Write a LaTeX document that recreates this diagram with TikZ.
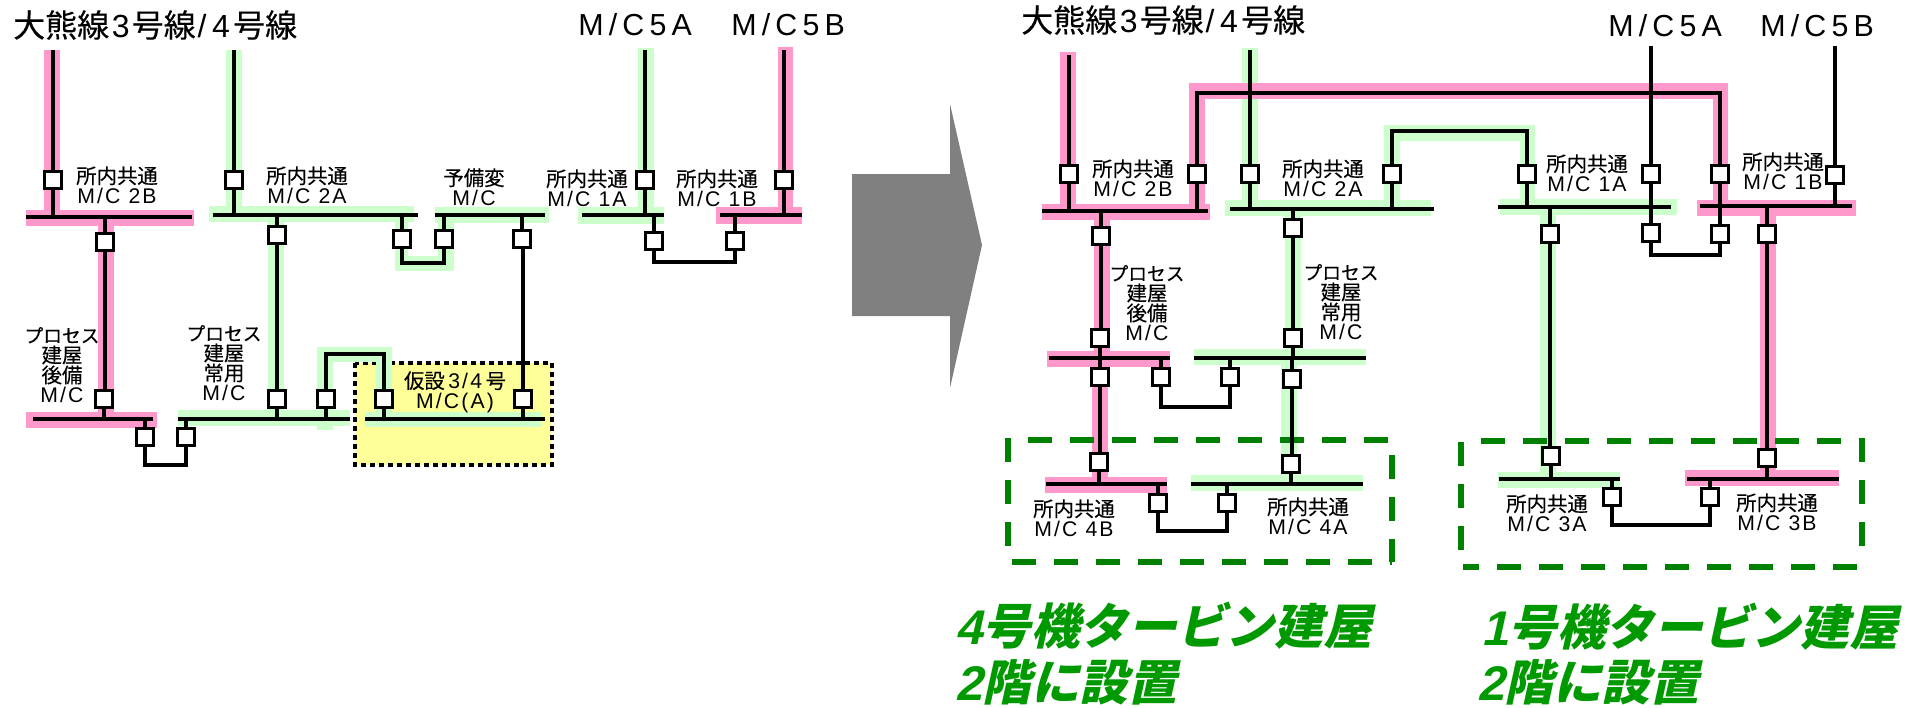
\documentclass[tikz,border=0pt]{standalone}
\usepackage{fontspec}
\setmainfont[FakeBold=0.25]{Noto Sans CJK JP}
\newfontfamily\latf[LetterSpace=10,Scale=1.04]{Liberation Sans}
\newfontfamily\headlat[LetterSpace=17,Scale=1.0]{Liberation Sans}
\newfontfamily\kanaf[FakeBold=0.25,Scale=0.92]{Noto Sans CJK JP}
\newfontfamily\grnjp[FakeSlant=0.22]{Noto Sans CJK JP}
\newfontfamily\grnlat[FakeSlant=0.22]{Liberation Sans}
\pgfdeclarelayer{bands}
\pgfdeclarelayer{wires}
\pgfsetlayers{bands,wires,main}
\definecolor{pinkband}{HTML}{FF99CC}
\definecolor{greenband}{HTML}{CCFFCC}
\definecolor{yellowbox}{HTML}{FFFF99}
\definecolor{dashgreen}{HTML}{008000}
\definecolor{textgreen}{HTML}{009900}
\definecolor{arrowgray}{HTML}{808080}
\tikzset{
  cb/.style={draw=black,fill=white,rectangle,line width=2.4pt,minimum width=12.2pt,minimum height=13pt,inner sep=0pt,outer sep=0pt},
  busbar/.style={fill=black,rectangle,minimum height=3pt,inner sep=0pt,outer sep=0pt},
  wire/.style={draw=black,line width=3.05pt,line join=miter},
  pk/.style={fill=pinkband},
  gn/.style={fill=greenband},
  bldg/.style={draw=dashgreen,line width=4.2pt,dash pattern=on 18pt off 13.5pt},
  lbl/.style={align=center,inner sep=0pt,font=\fontsize{15.3pt}{15pt}\selectfont},
  head/.style={inner sep=0pt,font=\fontsize{24pt}{28pt}\selectfont},
  headm/.style={inner sep=0pt,font=\fontsize{22.8pt}{28pt}\selectfont\headlat},
  grn/.style={anchor=west,inner sep=0pt,text=textgreen,font=\fontsize{36.5pt}{40pt}\selectfont\bfseries}
}
\begin{document}
\begin{tikzpicture}[x=0.75pt,y=-0.75pt]
\useasboundingbox (0,0) rectangle (1923,707);
% ---------- circuit breakers, left diagram
\node[cb] (cL2B) at (53,180) {};
\node[cb] (cL2Bd) at (105,242) {};
\node[cb] (cLPBu) at (104,399) {};
\node[cb] (cLPBr) at (145,437) {};
\node[cb] (cLPNl) at (186,437) {};
\node[cb] (cL2A) at (234,180) {};
\node[cb] (cL2Ad) at (277,235) {};
\node[cb] (cLPNu) at (277,399) {};
\node[cb] (cL2Ar) at (402,239) {};
\node[cb] (cLYl) at (444,239) {};
\node[cb] (cLYd) at (522,239) {};
\node[cb] (cLKu) at (523,399) {};
\node[cb] (cLPNa) at (326,399) {};
\node[cb] (cLKa) at (384,399) {};
\node[cb] (cL1A) at (645,180) {};
\node[cb] (cL1Ad) at (654,241) {};
\node[cb] (cL1Bd) at (735,241) {};
\node[cb] (cL1B) at (784,180) {};
% ---------- circuit breakers, right diagram
\node[cb] (cR2B) at (1069,174) {};
\node[cb] (cR2Bd) at (1101,236) {};
\node[cb] (cRPBu) at (1100,338) {};
\node[cb] (cRPBd) at (1100,377) {};
\node[cb] (cR4Bu) at (1099,462) {};
\node[cb] (cR2Bt) at (1197,174) {};
\node[cb] (cR2A) at (1250,174) {};
\node[cb] (cR2Ar) at (1392,174) {};
\node[cb] (cR2Ad) at (1293,228) {};
\node[cb] (cRPNu) at (1293,338) {};
\node[cb] (cRPNd) at (1292,379) {};
\node[cb] (cR4Au) at (1291,464) {};
\node[cb] (cRPBr) at (1161,377) {};
\node[cb] (cRPNl) at (1230,377) {};
\node[cb] (cR4Bl) at (1158,503) {};
\node[cb] (cR4Al) at (1227,503) {};
\node[cb] (cR1Au) at (1527,174) {};
\node[cb] (cR1Ad) at (1550,234) {};
\node[cb] (cR3Au) at (1551,456) {};
\node[cb] (cR5A) at (1651,174) {};
\node[cb] (cR1Al) at (1651,233) {};
\node[cb] (cR1Bl) at (1720,234) {};
\node[cb] (cR1Bu) at (1720,174) {};
\node[cb] (cR5B) at (1835,175) {};
\node[cb] (cR1Bd) at (1767,234) {};
\node[cb] (cR3Bu) at (1767,458) {};
\node[cb] (cR3Al) at (1612,497) {};
\node[cb] (cR3Bl) at (1710,497) {};
% ---------- bus bars
\node[busbar,minimum width=124.5pt] (bL2B) at (109,217) {};
\node[busbar,minimum width=90pt] (bLPB) at (93,419) {};
\node[busbar,minimum width=129pt] (bLPN) at (264,419) {};
\node[busbar,minimum width=153.75pt] (bL2A) at (315.5,215) {};
\node[busbar,minimum width=82.5pt] (bLY) at (490,215) {};
\node[busbar,minimum width=135pt] (bLK) at (455,419) {};
\node[busbar,minimum width=61.5pt] (bL1A) at (623,215) {};
\node[busbar,minimum width=61.5pt] (bL1B) at (761,215) {};
\node[busbar,minimum width=124.5pt] (bR2B) at (1125,211) {};
\node[busbar,minimum width=90.75pt] (bRPB) at (1109.5,358) {};
\node[busbar,minimum width=90.75pt] (bR4B) at (1106.5,484) {};
\node[busbar,minimum width=153pt] (bR2A) at (1332,209) {};
\node[busbar,minimum width=129pt] (bRPN) at (1280,358) {};
\node[busbar,minimum width=129pt] (bR4A) at (1277,484) {};
\node[busbar,minimum width=129.75pt] (bR1A) at (1584.5,207) {};
\node[busbar,minimum width=90.75pt] (bR3A) at (1559.5,479) {};
\node[busbar,minimum width=114pt] (bR1B) at (1776,206) {};
\node[busbar,minimum width=114pt] (bR3B) at (1763,479) {};
% ---------- free ends and bends
\coordinate (iL3) at (53,50);
\coordinate (iL4) at (234,50);
\coordinate (iL5A) at (645,50);
\coordinate (iL5B) at (784,50);
\coordinate (iR3) at (1069,55);
\coordinate (iR4) at (1250,50);
\coordinate (iR5A) at (1651,46);
\coordinate (iR5B) at (1835,46);
\coordinate (uLa) at (165,465);
\coordinate (uLb) at (420,263);
\coordinate (uLc) at (355,354);
\coordinate (uLd) at (695,262);
\coordinate (uRrun) at (1400,93);
\coordinate (uRarch) at (1460,131);
\coordinate (uRa) at (1195,407);
\coordinate (uRb) at (1190,531);
\coordinate (uRc) at (1685,255);
\coordinate (uRd) at (1660,525);
% ---------- highlight bands and boxes
\begin{pgfonlayer}{bands}
\fill[white] (0,0) rectangle (1923,707);
\draw[fill=yellowbox,draw=black,line width=3pt,dash pattern=on 3.4pt off 3.35pt] (355,363) rectangle (552,465);
\foreach \a/\b/\c/\d in {44/50/60/210,26/210/194/226,98/226/114/412,26/412/157/428,778/47/793/207,716/207/802/224}
  \fill[pk] (\a,\b) rectangle (\c,\d);
\foreach \a/\b/\c/\d in {226/50/242/206,209/206/414/222,268/222/284/410,178/410/350/426,317/347/392/362,317/362/333/430,376/362/392/412,365/412/541/427,395/222/408/271,395/256/454/271,438/222/454/271,435/207/549/223,638/48/654/207,578/207/664/224,
  1242/48/1258/200,1225/200/1431/216,1285/216/1301/349,1194/349/1366/365,1281/365/1297/475,1191/475/1363/491,1384/125/1400/200,1384/125/1535/141,1520/125/1535/199,1500/199/1677/215,1540/215/1556/472,1498/472/1620/488}
  \fill[gn] (\a,\b) rectangle (\c,\d);
\foreach \a/\b/\c/\d in {1060/52/1076/204,1042/204/1210/220,1189/83/1205/204,1189/83/1728/99,1713/83/1728/200,1697/200/1856/216,1760/216/1776/470,1685/470/1839/486,1094/220/1110/351,1047/351/1170/367,1092/367/1108/477,1045/477/1167/493}
  \fill[pk] (\a,\b) rectangle (\c,\d);
% large arrow
\fill[arrowgray] (852,174) -- (950,174) -- (950,104) -- (982,245) -- (950,388) -- (950,316) -- (852,316) -- cycle;
% building boxes
\draw[bldg] (1008,438) -- (1008,562);
\draw[bldg] (1028,440) -- (1392,440);
\draw[bldg] (1392,455) -- (1392,562);
\draw[bldg] (1012,562) -- (1392,562);
\draw[bldg] (1461,442) -- (1461,565);
\draw[bldg] (1481,441) -- (1862,441);
\draw[bldg] (1862,438) -- (1862,548);
\draw[bldg,dash phase=6pt] (1463,567) -- (1865,567);
\end{pgfonlayer}
% ---------- connectors
\begin{pgfonlayer}{wires}
\draw[wire] (iL3) -- (cL2B) -- (cL2B |- bL2B);
\draw[wire] (cL2Bd |- bL2B) -- (cL2Bd) -- (cL2Bd |- cLPBu);
\draw[wire] (cLPBu) -- (cLPBu |- bLPB);
\draw[wire] (cLPBr |- bLPB) -- (cLPBr);
\draw[wire] (cLPNl |- bLPN) -- (cLPNl);
\draw[wire] (cLPBr) |- (uLa) -| (cLPNl);
\draw[wire] (iL4) -- (cL2A) -- (cL2A |- bL2A);
\draw[wire] (cL2Ad |- bL2A) -- (cL2Ad) -- (cLPNu) -- (cLPNu |- bLPN);
\draw[wire] (cL2Ar |- bL2A) -- (cL2Ar);
\draw[wire] (cLYl |- bLY) -- (cLYl);
\draw[wire] (cL2Ar) |- (uLb) -| (cLYl);
\draw[wire] (cLYd |- bLY) -- (cLYd);
\draw[wire] (cLKu |- cLYd) -- (cLKu);
\draw[wire] (cLKu) -- (cLKu |- bLK);
\draw[wire] (cLPNa |- bLPN) -- (cLPNa);
\draw[wire] (cLKa |- bLK) -- (cLKa);
\draw[wire] (cLPNa) |- (uLc) -| (cLKa);
\draw[wire] (iL5A) -- (cL1A) -- (cL1A |- bL1A);
\draw[wire] (iL5B) -- (cL1B) -- (cL1B |- bL1B);
\draw[wire] (cL1Ad |- bL1A) -- (cL1Ad);
\draw[wire] (cL1Bd |- bL1B) -- (cL1Bd);
\draw[wire] (cL1Ad) |- (uLd) -| (cL1Bd);
% right
\draw[wire] (iR3) -- (cR2B) -- (cR2B |- bR2B);
\draw[wire] (cR2Bd |- bR2B) -- (cR2Bd);
\draw[wire] (cR2Bd) -- (cR2Bd |- cRPBu);
\draw[wire] (cRPBu |- bRPB) -- (cRPBu);
\draw[wire] (cRPBu) -- (cRPBd);
\draw[wire] (cRPBd) -- (cRPBd |- cR4Bu);
\draw[wire] (cR4Bu) -- (cR4Bu |- bR4B);
\draw[wire] (cR2Bt |- bR2B) -- (cR2Bt);
\draw[wire] (cR2Bt) |- (uRrun) -| (cR1Bu);
\draw[wire] (iR4) -- (cR2A) -- (cR2A |- bR2A);
\draw[wire] (cR2Ar |- bR2A) -- (cR2Ar);
\draw[wire] (cR2Ar) |- (uRarch) -| (cR1Au);
\draw[wire] (cR1Au) -- (cR1Au |- bR1A);
\draw[wire] (cR2Ad |- bR2A) -- (cR2Ad) -- (cRPNu) -- (cRPNu |- bRPN);
\draw[wire] (cRPNd |- bRPN) -- (cRPNd);
\draw[wire] (cRPNd) -- (cRPNd |- cR4Au);
\draw[wire] (cR4Au) -- (cR4Au |- bR4A);
\draw[wire] (cRPBr |- bRPB) -- (cRPBr);
\draw[wire] (cRPNl |- bRPN) -- (cRPNl);
\draw[wire] (cRPBr) |- (uRa) -| (cRPNl);
\draw[wire] (cR4Bl |- bR4B) -- (cR4Bl);
\draw[wire] (cR4Al |- bR4A) -- (cR4Al);
\draw[wire] (cR4Bl) |- (uRb) -| (cR4Al);
\draw[wire] (cR1Ad |- bR1A) -- (cR1Ad);
\draw[wire] (cR1Ad) -- (cR1Ad |- cR3Au);
\draw[wire] (cR3Au) -- (cR3Au |- bR3A);
\draw[wire] (iR5A) -- (cR5A) -- (cR1Al);
\draw[wire] (cR1Bu) -- (cR1Bl);
\draw[wire] (cR1Al) |- (uRc) -| (cR1Bl);
\draw[wire] (iR5B) -- (cR5B) -- (cR5B |- bR1B);
\draw[wire] (cR1Bd |- bR1B) -- (cR1Bd) -- (cR3Bu) -- (cR3Bu |- bR3B);
\draw[wire] (cR3Al |- bR3A) -- (cR3Al);
\draw[wire] (cR3Bl |- bR3B) -- (cR3Bl);
\draw[wire] (cR3Al) |- (uRd) -| (cR3Bl);
\end{pgfonlayer}
% ---------- text, left
\node[head,anchor=west] (tL0) at (13,25) {大熊線\hspace{2pt}{\headlat 3}\hspace{1.5pt}号線\hspace{1.5pt}{\headlat /4}\hspace{2.5pt}号線};
\node[headm,anchor=west] (tL5A) at (578,25) {M/C5A};
\node[headm,anchor=west] (tL5B) at (731,25) {M/C5B};
\node[lbl] (tL2B) at (117,185) {所内共通\\{\latf M/C 2B}};
\node[lbl] (tL2A) at (307,185) {所内共通\\{\latf M/C 2A}};
\node[lbl] (tLY) at (474,187) {予備変\\{\latf M/C}};
\node[lbl] (tL1A) at (587,188) {所内共通\\{\latf M/C 1A}};
\node[lbl] (tL1B) at (717,188) {所内共通\\{\latf M/C 1B}};
\node[lbl] (tLPB) at (62,365) {{\kanaf プロセス}\\建屋\\後備\\{\latf M/C}};
\node[lbl] (tLPN) at (224,363) {{\kanaf プロセス}\\建屋\\常用\\{\latf M/C}};
\node[lbl] (tLK) at (455,392) {仮設{\latf\,3/4\,}号\\{\latf M/C(A)}};
% ---------- text, right
\node[head,anchor=west] (tR0) at (1021,20) {大熊線\hspace{2pt}{\headlat 3}\hspace{1.5pt}号線\hspace{1.5pt}{\headlat /4}\hspace{2.5pt}号線};
\node[headm,anchor=west] (tR5A) at (1608,26) {M/C5A};
\node[headm,anchor=west] (tR5B) at (1760,26) {M/C5B};
\node[lbl] (tR2B) at (1133,178) {所内共通\\{\latf M/C 2B}};
\node[lbl] (tR2A) at (1323,178) {所内共通\\{\latf M/C 2A}};
\node[lbl] (tR1A) at (1587,173) {所内共通\\{\latf M/C 1A}};
\node[lbl] (tR1B) at (1783,171) {所内共通\\{\latf M/C 1B}};
\node[lbl] (tRPB) at (1147,303) {{\kanaf プロセス}\\建屋\\後備\\{\latf M/C}};
\node[lbl] (tRPN) at (1341,302) {{\kanaf プロセス}\\建屋\\常用\\{\latf M/C}};
\node[lbl] (tR4B) at (1074,518) {所内共通\\{\latf M/C 4B}};
\node[lbl] (tR4A) at (1308,516) {所内共通\\{\latf M/C 4A}};
\node[lbl] (tR3A) at (1547,513) {所内共通\\{\latf M/C 3A}};
\node[lbl] (tR3B) at (1777,512) {所内共通\\{\latf M/C 3B}};
\node[grn] (gA1) at (955,626) {{\grnlat 4}{\grnjp 号機タービン建屋}};
\node[grn] (gA2) at (955,682) {{\grnlat 2}{\grnjp 階に設置}};
\node[grn] (gB1) at (1481,627) {{\grnlat 1}{\grnjp 号機タービン建屋}};
\node[grn] (gB2) at (1477,682) {{\grnlat 2}{\grnjp 階に設置}};
\end{tikzpicture}
\end{document}
